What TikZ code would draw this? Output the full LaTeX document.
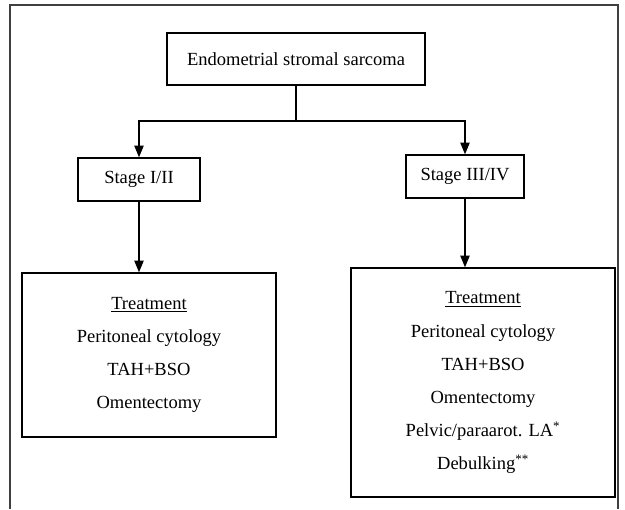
\documentclass[tikz,border=0pt]{standalone}
\usepackage{fontspec}
\setmainfont{Liberation Serif}
\usepackage{tikz}
\usetikzlibrary{arrows.meta,shapes,calc}
\tikzstyle{box}=[rectangle,draw,line width=1.2pt,inner sep=0pt,font=\fontsize{15.8}{19}\selectfont]
\tikzstyle{listbox}=[box,align=center,font=\fontsize{15.8}{28.2}\selectfont]
\tikzstyle{link}=[draw,line width=1.1pt]
\tikzstyle{edge}=[link,-{Triangle[width=8pt,length=10pt]}]

\begin{document}
\begin{tikzpicture}[x=0.03cm,y=-0.03cm]

    \useasboundingbox (0,0) rectangle (625,509);
    \draw[line width=1pt, black!75] (10,509) -- (10,5) -- (618,5) -- (618,509);

    \node[box, minimum width=7.74cm, minimum height=1.56cm] (ess) at (296,59) {Endometrial stromal sarcoma};

    \foreach \x/\y/\w/\name/\txt in {139/179.5/3.66/early/{Stage I/II}, 465/176.5/3.54/late/{Stage III/IV}}
        \node[box, minimum width=\w cm, minimum height=1.29cm] (\name) at (\x,\y) {\txt};

    \node[listbox, minimum width=7.62cm, minimum height=4.92cm] (earlytx) at (149,355)
        {\underline{Treatment}\\Peritoneal cytology\\TAH+BSO\\Omentectomy};
    \node[listbox, minimum width=7.92cm, minimum height=6.87cm] (latetx) at (483,382.5)
        {\underline{Treatment}\\Peritoneal cytology\\TAH+BSO\\Omentectomy\\Pelvic/paraarot. LA\textsuperscript{*}\\Debulking\textsuperscript{**}};

    \coordinate (fork) at (296,121);
    \draw[link] (ess) -- (fork);

    \foreach \name in {early, late}
        \draw[edge] (fork) -| (\name);

    \foreach \source/\dest in {early/earlytx, late/latetx}
        \draw[edge] (\source) -- (\source |- \dest.north);

\end{tikzpicture}
\end{document}
